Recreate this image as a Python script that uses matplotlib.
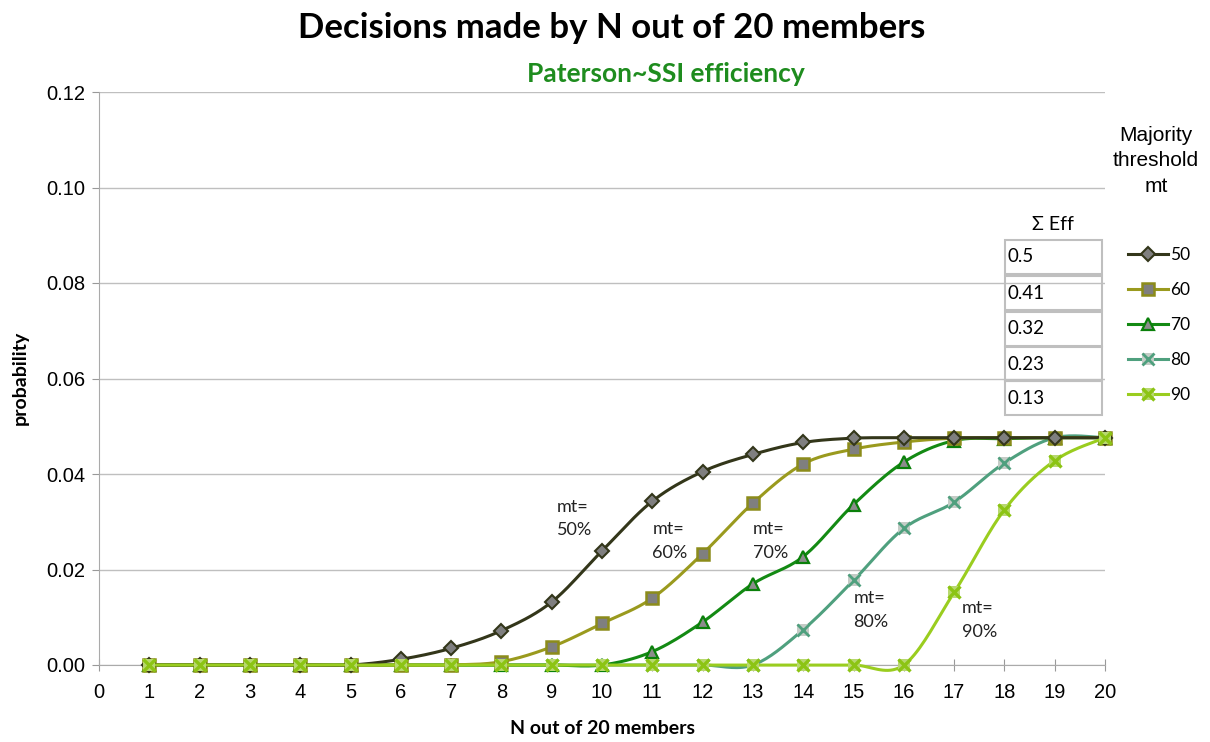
import numpy as np
import matplotlib.pyplot as plt
from matplotlib.lines import Line2D
from matplotlib.patches import Rectangle
from matplotlib.legend_handler import HandlerTuple

# data
n_members = np.arange(1, 21)
p_mt50 = [0, 0, 0, 0, 0, 0.0012, 0.0035, 0.0072, 0.0132, 0.0239, 0.0343, 0.0405,
          0.0441, 0.0466, 0.0475, 0.0476, 0.0476, 0.0476, 0.0476, 0.0476]
p_mt60 = [0, 0, 0, 0, 0, 0, 0, 0.0007, 0.0038, 0.0087, 0.0140, 0.0233,
          0.0339, 0.0421, 0.0452, 0.0467, 0.0475, 0.0476, 0.0476, 0.0476]
p_mt70 = [0, 0, 0, 0, 0, 0, 0, 0, 0, 0, 0.0028, 0.0090,
          0.0170, 0.0227, 0.0336, 0.0425, 0.0470, 0.0474, 0.0476, 0.0476]
p_mt80 = [0, 0, 0, 0, 0, 0, 0, 0, 0, 0, 0, 0,
          0, 0.0074, 0.0177, 0.0286, 0.0341, 0.0423, 0.0476, 0.0476]
p_mt90 = [0, 0, 0, 0, 0, 0, 0, 0, 0, 0, 0, 0,
          0, 0, 0, 0, 0.0152, 0.0325, 0.0428, 0.0476]
mt_labels = ["50", "60", "70", "80", "90"]
sum_eff = ["0.5", "0.41", "0.32", "0.23", "0.13"]
note_text = ["mt=\n50%", "mt=\n60%", "mt=\n70%", "mt=\n80%", "mt=\n90%"]
note_x = [9.1, 11.0, 13.0, 15.0, 17.15]
note_y = [0.0307, 0.026, 0.026, 0.0115, 0.0094]

W, H = 1210, 742
CAL = ["Lato", "DejaVu Sans"]
plt.rcParams["font.family"] = ["Liberation Sans", "DejaVu Sans"]


def smooth(x, y, steps=20):
    """Catmull-Rom curve through the points (like Excel's smoothed line)."""
    x = np.asarray(x, float); y = np.asarray(y, float)
    px = np.concatenate(([x[0]], x, [x[-1]]))
    py = np.concatenate(([y[0]], y, [y[-1]]))
    xs, ys = [], []
    t = np.linspace(0, 1, steps)
    for i in range(1, len(px) - 2):
        m0x = (px[i+1] - px[i-1]) / 2; m1x = (px[i+2] - px[i]) / 2
        m0y = (py[i+1] - py[i-1]) / 2; m1y = (py[i+2] - py[i]) / 2
        h00 = 2*t**3 - 3*t**2 + 1; h10 = t**3 - 2*t**2 + t
        h01 = -2*t**3 + 3*t**2; h11 = t**3 - t**2
        xs.append(h00*px[i] + h10*m0x + h01*px[i+1] + h11*m1x)
        ys.append(h00*py[i] + h10*m0y + h01*py[i+1] + h11*m1y)
    return np.concatenate(xs), np.concatenate(ys)


fig = plt.figure(figsize=(W/100, H/100), dpi=100)
ax = fig.add_axes([99/W, (H-665)/H, (1105-99)/W, (665-92)/H])

series = [p_mt50, p_mt60, p_mt70, p_mt80, p_mt90]
styles = [
    dict(line="#33361a", under=dict(marker="D", ms=7, mfc="#7f7f7f", mec="#33361a", mew=1.5), over=None),
    dict(line="#9a9a1e", under=dict(marker="s", ms=9, mfc="#7f7f7f", mec="#8c8c1a", mew=1.8), over=None),
    dict(line="#138a13", under=dict(marker="^", ms=9, mfc="#8c8c8c", mec="#0a800a", mew=1.6), over=None),
    dict(line="#4fa07e", under=dict(marker="s", ms=9, mfc="#c4ccc6", mec="none", mew=0),
         over=dict(marker="x", ms=9, mfc="none", mec="#4fa07e", mew=2)),
    dict(line="#9acd1f", under=dict(marker="s", ms=9, mfc="#b8d870", mec="none", mew=0),
         over=dict(marker="x", ms=9, mfc="none", mec="#8cc414", mew=2.4)),
]

handles = []
for vals, st, z in zip(series, styles, [5, 4, 3, 2, 6]):
    sx, sy = smooth(n_members, vals)
    ax.plot(sx, sy, color=st["line"], lw=2.2, zorder=z, clip_on=False)
    ax.plot(n_members, vals, ls="none", zorder=z + 0.1, clip_on=False, **st["under"])
    h = [Line2D([], [], color=st["line"], lw=2.2, **st["under"])]
    if st["over"]:
        ax.plot(n_members, vals, ls="none", zorder=z + 0.2, clip_on=False, **st["over"])
        h.append(Line2D([], [], ls="none", **st["over"]))
    handles.append(tuple(h))

for txt, tx, ty in zip(note_text, note_x, note_y):
    ax.text(tx, ty, txt, family=CAL, fontsize=13, ha="left", va="center",
            linespacing=1.6, color="#222222", zorder=7)

ax.set_xlim(0, 20)
ax.set_ylim(0, 0.12)
ax.set_xticks(range(0, 21))
ax.set_yticks(np.arange(0, 0.121, 0.02))
ax.set_yticklabels([f"{v:.2f}" for v in np.arange(0, 0.121, 0.02)])
ax.tick_params(axis="both", labelsize=14.5, colors="#999999", labelcolor="black")
ax.tick_params(axis="x", direction="inout", length=8, pad=9)
ax.tick_params(axis="y", direction="out", length=5, pad=5)
ax.grid(axis="y", color="#bfbfbf", lw=1)
ax.set_axisbelow(True)
for s in ["top", "right"]:
    ax.spines[s].set_visible(False)
for s in ["left", "bottom"]:
    ax.spines[s].set_color("#aaaaaa")

fig.text(612/W, 1 - 28/H, "Decisions made by N out of 20 members", family=CAL,
         fontweight="bold", fontsize=25, ha="center", va="center")
fig.text(666/W, 1 - 74/H, "Paterson~SSI efficiency", family=CAL,
         fontweight="bold", fontsize=19, ha="center", va="center", color="#1e8c1e")
fig.text(603/W, 1 - 729/H, "N out of 20 members", family=CAL, fontweight="bold",
         fontsize=14, ha="center", va="center")
fig.text(20/W, 1 - 378/H, "probability", family=CAL, fontweight="bold",
         fontsize=14, ha="center", va="center", rotation=90)

# legend title and legend
fig.text(1156/W, 1 - 161/H, "Majority\nthreshold\nmt", fontsize=15,
         ha="center", va="center", linespacing=1.42)
fig.legend(handles, mt_labels, loc="upper left", bbox_to_anchor=(1112/W, 1 - 231/H),
           frameon=False, prop={"family": CAL, "size": 12.5}, labelspacing=1.1,
           handlelength=2.3, handletextpad=0.15,
           handler_map={tuple: HandlerTuple(ndivide=1, pad=0)})

# Σ Eff boxes
box_tops = [240, 276, 312, 347, 381]
box_h = 34
fig.text(1053/W, 1 - 225/H, "Σ Eff", family=CAL, fontsize=14, ha="center", va="center")
for top, val in zip(box_tops, sum_eff):
    fig.add_artist(Rectangle((1005/W, 1 - (top + box_h)/H), 97/W, box_h/H,
                             transform=fig.transFigure, fill=False,
                             edgecolor="#bfbfbf", lw=1.5))
    fig.text(1008/W, 1 - (top + box_h/2)/H, val, family=CAL, fontsize=13.5,
             ha="left", va="center")

fig.savefig("out.png", dpi=100)
